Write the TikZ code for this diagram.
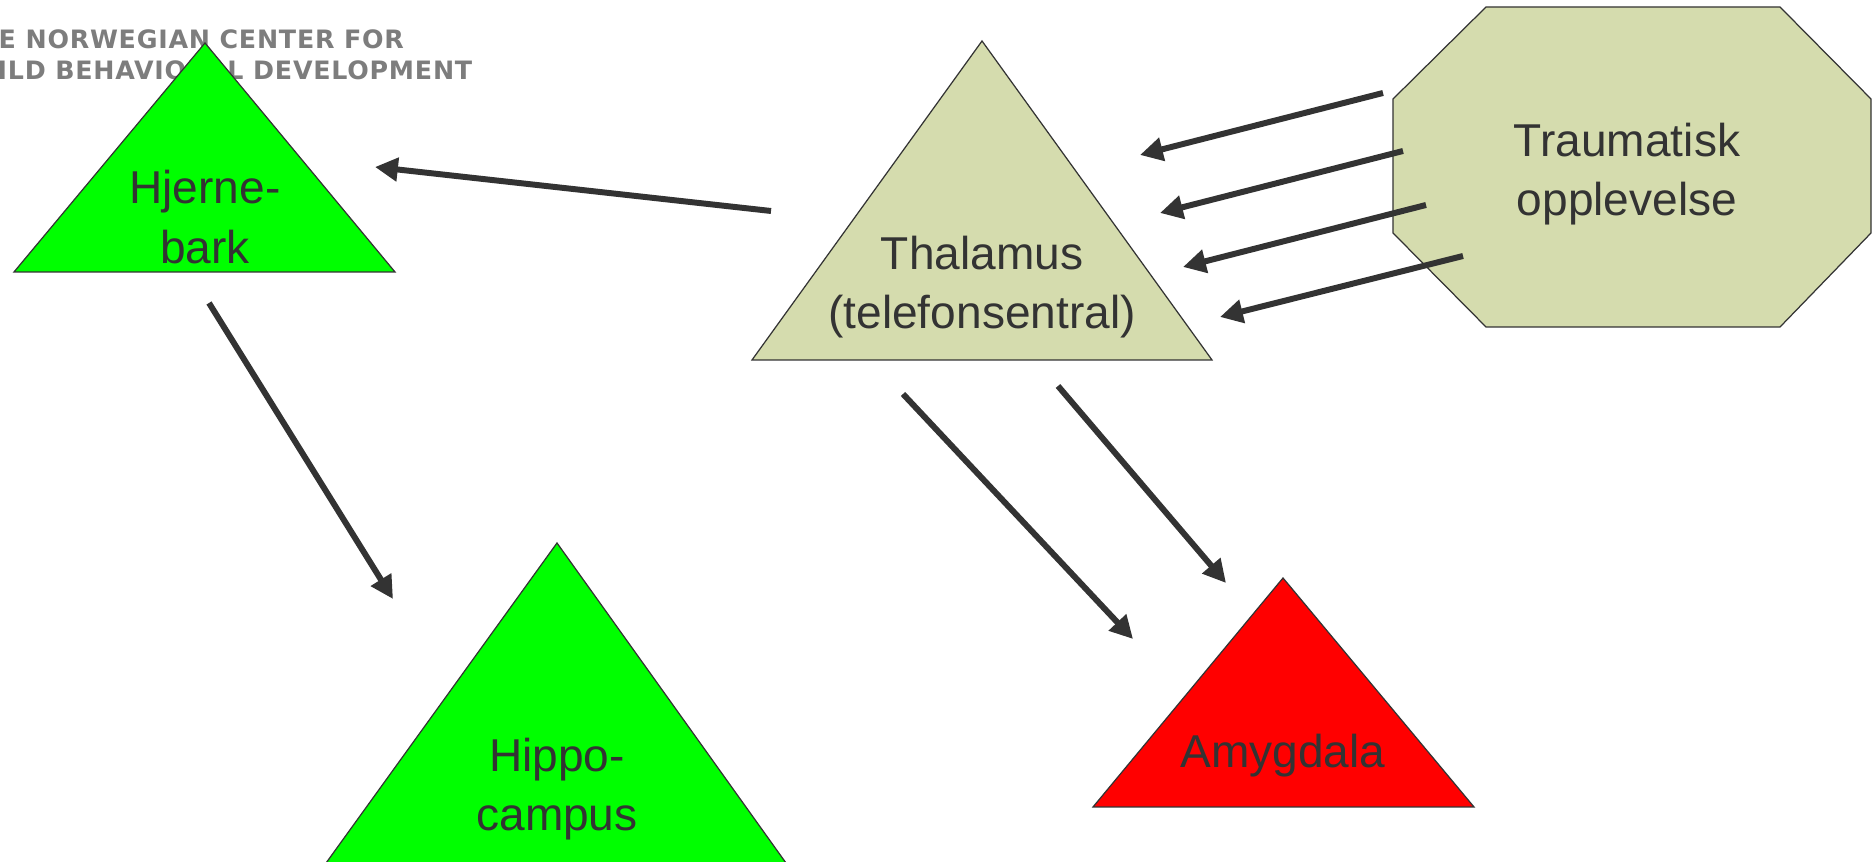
\documentclass[tikz,border=0pt]{standalone}
\usepackage{fontspec}
\setmainfont{Liberation Sans}
\newfontfamily\logofont{DejaVu Sans}[LetterSpace=3]
\usetikzlibrary{arrows.meta}

\definecolor{cortexgreen}{HTML}{00FF00}
\definecolor{thalgreen}{HTML}{D5DCAE}
\definecolor{amygred}{HTML}{FF0000}
\definecolor{darktext}{HTML}{333333}
\definecolor{logogray}{HTML}{7D7D7D}

\tikzset{
  region/.style={draw=darktext, line width=0.35pt},
  regionlabel/.style={text=darktext, align=center, inner sep=0pt,
    font=\fontsize{13.1}{17}\selectfont},
  signal/.style={draw=darktext, line width=1.7pt,
    -{Triangle[length=6.5pt,width=6.5pt]}},
  logo/.style={text=logogray, anchor=base west, inner sep=0pt,
    font=\logofont\bfseries\fontsize{7.2}{8}\selectfont},
}

\begin{document}
\begin{tikzpicture}[x=0.01cm, y=-0.01cm]
  \useasboundingbox (0,0) rectangle (1873,862);

  % logo behind the shapes
  \node[logo] (logoa) at (-2,49) {E NORWEGIAN CENTER FOR};
  \node[logo] (logob) at (-3,80) {ILD BEHAVIORAL DEVELOPMENT};

  % regions
  \filldraw[region, fill=cortexgreen] (14,272) -- (205,43) -- (395,272) -- cycle;
  \filldraw[region, fill=thalgreen] (752,360) -- (982,41) -- (1212,360) -- cycle;
  \filldraw[region, fill=cortexgreen] (321,870) -- (557,543) -- (791,870) -- cycle;
  \filldraw[region, fill=amygred] (1093,807) -- (1283,578) -- (1474,807) -- cycle;
  \filldraw[region, fill=thalgreen] (1486,7) -- (1780,7) -- (1871,99) -- (1871,233)
    -- (1780,327) -- (1486,327) -- (1393,233) -- (1393,99) -- cycle;

  % labels
  \node[regionlabel] (hjerne) at (205,217) {Hjerne-\\bark};
  \node[regionlabel] (thal) at (982,287) {Thalamus\\(telefonsentral)};
  \node[regionlabel] (hippo) at (557,789) {Hippo-\\campus};
  \node[regionlabel] (amyg) at (1283,756) {Amygdala};
  \node[regionlabel] (traume) at (1627,174) {Traumatisk\\opplevelse};

  % arrow ends
  \coordinate (th-s) at (771,211);
  \coordinate (th-e) at (375,167);
  \coordinate (tr1-s) at (1383,93);
  \coordinate (tr1-e) at (1140,155);
  \coordinate (tr2-s) at (1403,151);
  \coordinate (tr2-e) at (1160,213);
  \coordinate (tr3-s) at (1426,205);
  \coordinate (tr3-e) at (1183,267);
  \coordinate (tr4-s) at (1463,256);
  \coordinate (tr4-e) at (1220,317);
  \coordinate (ta1-s) at (903,394);
  \coordinate (ta1-e) at (1133,639);
  \coordinate (ta2-s) at (1058,386);
  \coordinate (ta2-e) at (1226,583);
  \coordinate (hh-s) at (209,303);
  \coordinate (hh-e) at (393,599);

  % signals
  \draw[signal] (th-s) -- (th-e);
  \draw[signal] (tr1-s) -- (tr1-e);
  \draw[signal] (tr2-s) -- (tr2-e);
  \draw[signal] (tr3-s) -- (tr3-e);
  \draw[signal] (tr4-s) -- (tr4-e);
  \draw[signal] (ta1-s) -- (ta1-e);
  \draw[signal] (ta2-s) -- (ta2-e);
  \draw[signal] (hh-s) -- (hh-e);
\end{tikzpicture}
\end{document}
